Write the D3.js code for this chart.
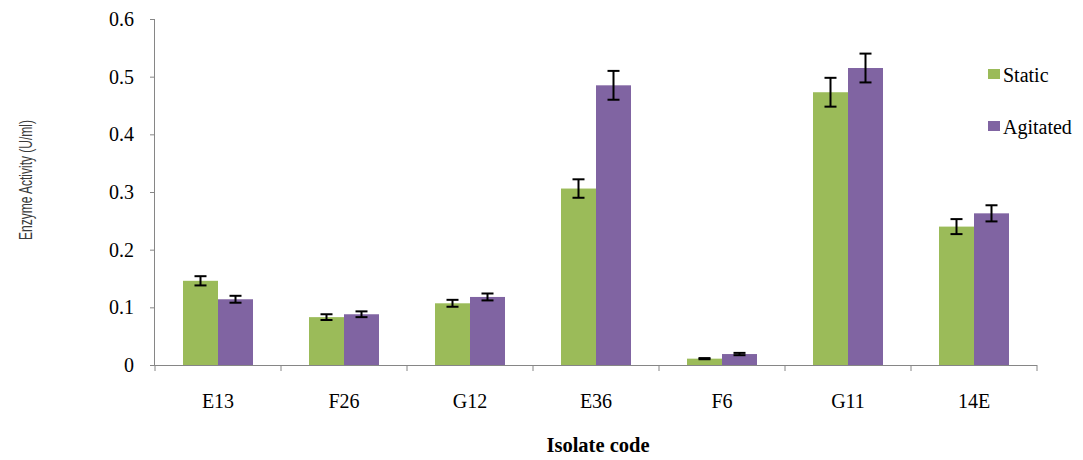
<!DOCTYPE html>
<html>
<head>
<meta charset="utf-8">
<script src="https://cdn.jsdelivr.net/npm/d3@7"></script>
<style>
  body { margin: 0; background: #fff; }
  svg { display: block; }
</style>
</head>
<body>
<div id="chart"></div>
<script>
"use strict";

/* ── Data ── */
const isolates   = ["E13", "F26", "G12", "E36", "F6", "G11", "14E"];
const seriesNames = ["Static", "Agitated"];
const staticVals   = [0.146, 0.083, 0.107, 0.306, 0.011, 0.473, 0.240];
const staticErr    = [0.008, 0.005, 0.006, 0.016, 0.001, 0.025, 0.013];
const agitatedVals = [0.114, 0.088, 0.118, 0.485, 0.019, 0.515, 0.263];
const agitatedErr  = [0.006, 0.005, 0.006, 0.025, 0.002, 0.025, 0.014];
const yTicks = [0, 0.1, 0.2, 0.3, 0.4, 0.5, 0.6];

const colours = { Static: "#9bbb59", Agitated: "#8064a2" };
const serif = "'Liberation Serif', 'Times New Roman', serif";

/* ── Dimensions ── */
const W = 1083, H = 460;
const mLeft = 155, mRight = 1037, mTop = 19, mBottom = 365;

const svg = d3.select("#chart").append("svg")
  .attr("width", W).attr("height", H);

const x = d3.scaleBand().domain(isolates).range([mLeft, mRight]).padding(0);
const xInner = d3.scaleBand().domain(seriesNames)
  .range([28, x.bandwidth() - 28]).padding(0);
const y = d3.scaleLinear().domain([0, 0.6]).range([mBottom, mTop]);

const rows = [];
isolates.forEach((c, i) => {
  rows.push({ cat: c, s: "Static",   v: staticVals[i],   e: staticErr[i] });
  rows.push({ cat: c, s: "Agitated", v: agitatedVals[i], e: agitatedErr[i] });
});

/* ── Bars ── */
svg.append("g").selectAll("rect")
  .data(rows)
  .join("rect")
  .attr("x", d => x(d.cat) + xInner(d.s))
  .attr("y", d => y(d.v))
  .attr("width", xInner.bandwidth())
  .attr("height", d => y(0) - y(d.v))
  .attr("fill", d => colours[d.s]);

/* ── Error bars ── */
const eb = svg.append("g").attr("stroke", "#000").attr("stroke-width", 2);
rows.forEach(d => {
  const cx = x(d.cat) + xInner(d.s) + xInner.bandwidth() / 2;
  const y1 = y(d.v + d.e), y2 = y(d.v - d.e);
  eb.append("line").attr("x1", cx).attr("x2", cx).attr("y1", y1).attr("y2", y2);
  eb.append("line").attr("x1", cx - 6).attr("x2", cx + 6).attr("y1", y1).attr("y2", y1);
  eb.append("line").attr("x1", cx - 6).attr("x2", cx + 6).attr("y1", y2).attr("y2", y2);
});

/* ── Y axis ── */
const yAxis = svg.append("g")
  .attr("transform", `translate(${mLeft},0)`)
  .call(d3.axisLeft(y).tickValues(yTicks).tickSize(5).tickPadding(16)
    .tickFormat(d => d === 0 ? "0" : d3.format(".1f")(d)));
yAxis.select(".domain").attr("stroke", "#868686").attr("d", `M-0.5,${mTop}V${mBottom}`);
yAxis.selectAll(".tick line").attr("stroke", "#868686");
yAxis.selectAll("text")
  .attr("font-family", serif)
  .attr("font-size", "20px").attr("fill", "#000");

/* ── X axis ── */
const xg = svg.append("g").attr("transform", `translate(0,${mBottom})`);
xg.append("line").attr("x1", mLeft - 5).attr("x2", mRight)
  .attr("y1", 0.5).attr("y2", 0.5).attr("stroke", "#868686");
const bounds = isolates.map(c => x(c)).concat([x.range()[1]]);
xg.selectAll("line.tk").data(bounds).join("line").attr("class", "tk")
  .attr("x1", d => d).attr("x2", d => d)
  .attr("y1", 0).attr("y2", 6).attr("stroke", "#868686");
xg.selectAll("text").data(isolates).join("text")
  .attr("x", d => x(d) + x.bandwidth() / 2)
  .attr("y", 43)
  .attr("text-anchor", "middle")
  .attr("font-family", serif)
  .attr("font-size", "20px")
  .text(d => d);

/* ── Axis titles ── */
svg.append("text")
  .attr("x", 598).attr("y", 452)
  .attr("text-anchor", "middle")
  .attr("font-family", serif)
  .attr("font-size", "20.5px").attr("font-weight", "700")
  .text("Isolate code");

svg.append("text")
  .attr("transform", "translate(32,180) rotate(-90)")
  .attr("text-anchor", "middle")
  .attr("font-family", "'Liberation Sans', Arial, sans-serif")
  .attr("font-size", "19px").attr("fill", "#3a3a3a")
  .attr("textLength", 120).attr("lengthAdjust", "spacingAndGlyphs")
  .text("Enzyme Activity (U/ml)");

/* ── Legend ── */
const legend = svg.append("g").attr("transform", "translate(988,69)");
seriesNames.forEach((s, i) => {
  const row = legend.append("g").attr("transform", `translate(0,${i * 52})`);
  row.append("rect").attr("width", 12).attr("height", 10).attr("fill", colours[s]);
  row.append("text")
    .attr("x", 15).attr("y", 13)
    .attr("font-family", serif)
    .attr("font-size", "20px")
    .text(s);
});
</script>
</body>
</html>
